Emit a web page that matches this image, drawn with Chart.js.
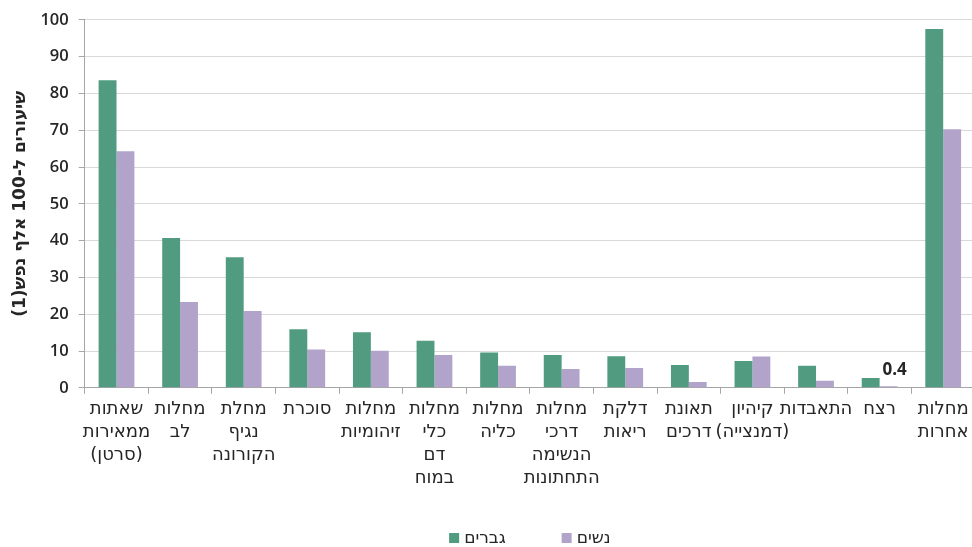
<!DOCTYPE html>
<html>
<head>
<meta charset="utf-8">
<script src="https://cdn.jsdelivr.net/npm/chart.js@4.4.1/dist/chart.umd.min.js"></script>
<style>
  html, body { margin: 0; padding: 0; background: #fff; overflow: hidden; }
  #wrap { width: 980px; height: 547px; }
  canvas { direction: rtl; }
</style>
</head>
<body>
<div id="wrap"><canvas id="myChart" width="980" height="547" dir="rtl"></canvas></div>
<script>
const categories = [
  ["שאתות", "ממאירות", "(סרטן)"],
  ["מחלות", "לב"],
  ["מחלת", "נגיף", "הקורונה"],
  ["סוכרת"],
  ["מחלות", "זיהומיות"],
  ["מחלות", "כלי", "דם", "במוח"],
  ["מחלות", "כליה"],
  ["מחלות", "דרכי", "הנשימה", "התחתונות"],
  ["דלקת", "ריאות"],
  ["תאונת", "דרכים"],
  ["קיהיון", "(דמנצייה)"],
  ["התאבדות"],
  ["רצח"],
  ["מחלות", "אחרות"],
];
const men = [83.6, 40.7, 35.5, 15.9, 15.1, 12.8, 9.6, 8.9, 8.6, 6.2, 7.3, 6.0, 2.7, 97.5];
const women = [64.3, 23.3, 20.9, 10.4, 10.1, 8.9, 6.0, 5.1, 5.4, 1.6, 8.5, 1.9, 0.4, 70.3];
const seriesNames = ["גברים", "נשים"];
const seriesColors = ["#519b81", "#b2a3cb"];
const yTitle = "שיעורים ל-100 אלף נפש(1)";
// which bars get a value label: [dataset, index]
const labeledBars = [[1, 12]];

const textColor = "#262626";
const numFont = "'Open Sans', 'Noto Sans', sans-serif";
const hebFont = "'DejaVu Sans', sans-serif";

const valueLabels = {
  id: "valueLabels",
  afterDatasetsDraw(chart) {
    const ctx = chart.ctx;
    ctx.save();
    ctx.font = "bold 17px " + numFont;
    ctx.fillStyle = textColor;
    ctx.textAlign = "center";
    ctx.textBaseline = "bottom";
    labeledBars.forEach(([ds, i]) => {
      const bar = chart.getDatasetMeta(ds).data[i];
      const v = chart.data.datasets[ds].data[i];
      ctx.fillText(String(v), bar.x + 6, bar.y - 8);
    });
    ctx.restore();
  },
};

const bottomLegend = {
  id: "bottomLegend",
  afterDraw(chart) {
    const ctx = chart.ctx;
    const area = chart.chartArea;
    ctx.save();
    ctx.font = "17px " + hebFont;
    ctx.textBaseline = "middle";
    ctx.textAlign = "left";
    const box = 10, gapText = 5, gapItem = 56;
    const items = chart.data.datasets.map((d) => ({
      text: d.label,
      color: d.backgroundColor,
      w: box + gapText + ctx.measureText(d.label).width,
    }));
    let total = items.reduce((s, it) => s + it.w, 0) + gapItem * (items.length - 1);
    let x = (area.left + area.right) / 2 - total / 2;
    const y = 538;
    items.forEach((it) => {
      ctx.fillStyle = it.color;
      ctx.fillRect(x, y - box / 2, box, box);
      ctx.fillStyle = textColor;
      ctx.fillText(it.text, x + box + gapText, y + 1);
      x += it.w + gapItem;
    });
    ctx.restore();
  },
};

const chart_ = new Chart(document.getElementById("myChart"), {
  type: "bar",
  data: {
    labels: categories,
    datasets: [
      { label: seriesNames[0], data: men, backgroundColor: seriesColors[0] },
      { label: seriesNames[1], data: women, backgroundColor: seriesColors[1] },
    ],
  },
  options: {
    responsive: false,
    animation: false,
    devicePixelRatio: 1,
    layout: { padding: { top: 14, right: 5, bottom: 53, left: 0 } },
    datasets: {
      bar: { categoryPercentage: 0.5625, barPercentage: 1.0, borderWidth: 0 },
    },
    plugins: {
      legend: { display: false },
      tooltip: { enabled: false },
    },
    scales: {
      x: {
        grid: {
          display: true,
          drawOnChartArea: false,
          offset: true,
          tickLength: 6,
          tickColor: "#a6a6a6",
        },
        border: { color: "#a6a6a6" },
        ticks: {
          autoSkip: false,
          maxRotation: 0,
          minRotation: 0,
          padding: 4,
          color: textColor,
          font: { family: hebFont, size: 18, lineHeight: 1.28 },
        },
      },
      y: {
        min: 0,
        max: 100,
        ticks: {
          stepSize: 10,
          padding: 10,
          color: textColor,
          font: { family: numFont, size: 16.5, weight: "600" },
        },
        grid: { color: "#d9d9d9", tickLength: 6, tickColor: "#a6a6a6" },
        border: { color: "#a6a6a6" },
        title: {
          display: true,
          text: yTitle,
          color: textColor,
          font: { family: hebFont, size: 17, weight: "bold" },
          padding: { top: 10, bottom: 0 },
        },
      },
    },
  },
  plugins: [valueLabels, bottomLegend],
});
</script>
</body>
</html>
